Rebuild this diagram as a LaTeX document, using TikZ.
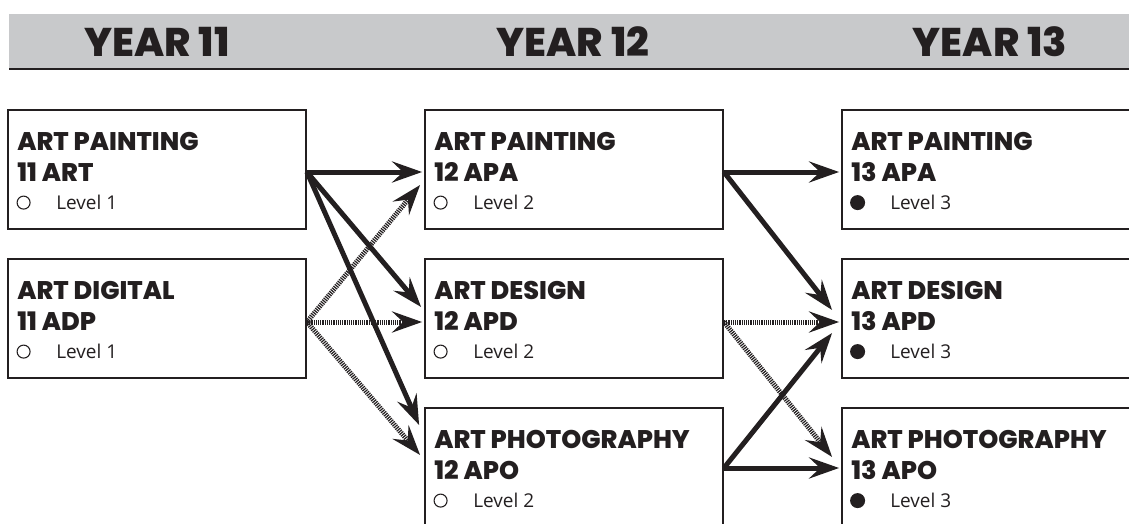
\documentclass[tikz,border=0pt]{standalone}
\usepackage{fontspec}
\IfFontExistsTF{Poppins ExtraBold}
  {\setmainfont{Poppins}[BoldFont={Poppins ExtraBold}]}
  {\setmainfont{Poppins}}
\newfontfamily\lvlfont{Open Sans}
\usetikzlibrary{arrows.meta}
\definecolor{ink}{HTML}{231F20}
\definecolor{band}{HTML}{C8C9CB}
\tikzset{
  box/.style={draw=ink, line width=1.8pt, minimum width=298pt, minimum height=119pt, inner sep=0pt},
  head/.style={text=ink, font=\fontsize{40}{42}\selectfont\bfseries, anchor=base, inner sep=0pt},
  ttl/.style={text=ink, font=\fontsize{25.5}{27}\selectfont\bfseries, anchor=base west, inner sep=0pt},
  lvl/.style={text=ink, font=\lvlfont\fontsize{19}{21}\selectfont, anchor=base west, inner sep=0pt},
  opendot/.style={circle, draw=ink, line width=1.1pt, minimum size=13pt, inner sep=0pt},
  fulldot/.style={circle, fill=ink, minimum size=15pt, inner sep=0pt},
  tip/.style={-{Stealth[length=30pt, width=21pt, inset=11pt]}},
  solidarr/.style={tip, draw=ink, line width=5pt},
  hatcharr/.style={tip, draw=ink, line width=5pt, dash pattern=on 1.2pt off 1pt},
}
\newcommand{\boxtext}[5]{%
  \node[ttl] (#1-a) at ([xshift=10pt,yshift=-41.5pt]#1.north west) {#2};
  \node[ttl] (#1-b) at ([xshift=10pt,yshift=-72.5pt]#1.north west) {#3};
  \node[#4] (#1-c) at ([xshift=16.5pt,yshift=-93.5pt]#1.north west) {};
  \node[lvl] (#1-d) at ([xshift=49pt,yshift=-100pt]#1.north west) {#5};
}
\begin{document}
\begin{tikzpicture}[x=1pt,y=-1pt]
\useasboundingbox (0,0) rectangle (1129,524);
% header band
\fill[band] (9,14) rectangle (1129,68);
\draw[ink, line width=2pt] (9,69) -- (1129,69);
\node[head] (h11) at (157,57) {YEAR 11};
\node[head] (h12) at (573,57) {YEAR 12};
\node[head] (h13) at (990,57) {YEAR 13};
% boxes
\node[box] (art11) at (157,169.5) {};
\node[box] (adp11) at (157,318.5) {};
\node[box] (apa12) at (574,169.5) {};
\node[box] (apd12) at (574,318.5) {};
\node[box] (apo12) at (574,467.5) {};
\node[box] (apa13) at (991,169.5) {};
\node[box] (apd13) at (991,318.5) {};
\node[box] (apo13) at (991,467.5) {};
\boxtext{art11}{ART PAINTING}{11 ART}{opendot}{Level 1}
\boxtext{adp11}{ART DIGITAL}{11 ADP}{opendot}{Level 1}
\boxtext{apa12}{ART PAINTING}{12 APA}{opendot}{Level 2}
\boxtext{apd12}{ART DESIGN}{12 APD}{opendot}{Level 2}
\boxtext{apo12}{ART PHOTOGRAPHY}{12 APO}{opendot}{Level 2}
\boxtext{apa13}{ART PAINTING}{13 APA}{fulldot}{Level 3}
\boxtext{apd13}{ART DESIGN}{13 APD}{fulldot}{Level 3}
\boxtext{apo13}{ART PHOTOGRAPHY}{13 APO}{fulldot}{Level 3}
% year 11 -> year 12
\draw[hatcharr] ([yshift=-3.5pt]adp11.east) -- ([xshift=-4pt,yshift=-15.5pt]apa12.west);
\draw[hatcharr] ([yshift=-3.5pt]adp11.east) -- ([xshift=-2pt,yshift=-3.5pt]apd12.west);
\draw[hatcharr] ([yshift=-3.5pt]adp11.east) -- ([xshift=-4pt,yshift=12.5pt]apo12.west);
\draw[solidarr] ([yshift=-2.5pt]art11.east) -- ([xshift=-2pt,yshift=-2.5pt]apa12.west);
\draw[solidarr] ([yshift=-2.5pt]art11.east) -- ([xshift=-3pt,yshift=11.5pt]apd12.west);
\draw[solidarr] ([yshift=-2.5pt]art11.east) -- ([xshift=-5pt,yshift=42.5pt]apo12.west);
% year 12 -> year 13
\draw[hatcharr] ([yshift=-3.5pt]apd12.east) -- ([xshift=-2pt,yshift=-3.5pt]apd13.west);
\draw[hatcharr] ([yshift=-3.5pt]apd12.east) -- ([xshift=-9pt,yshift=10.5pt]apo13.west);
\draw[solidarr] ([yshift=-2.5pt]apa12.east) -- ([xshift=-2pt,yshift=-2.5pt]apa13.west);
\draw[solidarr] ([yshift=-2.5pt]apa12.east) -- ([xshift=-9pt,yshift=8.5pt]apd13.west);
\draw[solidarr] ([yshift=-0.5pt]apo12.east) -- ([xshift=-2pt,yshift=-0.5pt]apo13.west);
\draw[solidarr] ([yshift=-0.5pt]apo12.east) -- ([xshift=-9pt,yshift=-14.5pt]apd13.west);
\end{tikzpicture}
\end{document}
